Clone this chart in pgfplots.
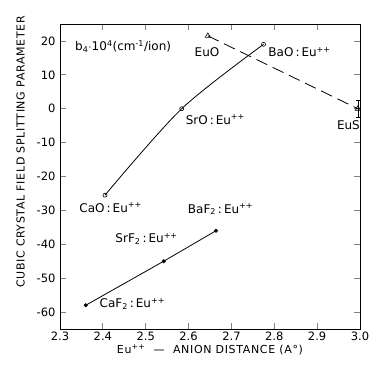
\documentclass[border=0pt]{standalone}
\usepackage{pgfplots}
\pgfplotsset{compat=1.18}
\usepackage{fontspec}
\setmainfont{DejaVu Sans}
\newfontfamily\spaced[LetterSpace=6]{DejaVu Sans}
\newcommand{\sps}[1]{\textsuperscript{#1}}
\newcommand{\sbs}[1]{\textsubscript{#1}}
\begin{document}
\begin{tikzpicture}
\useasboundingbox (-60pt,-37pt) rectangle (314pt,329pt);
\begin{axis}[
  scale only axis, width=300pt, height=305pt,
  xmin=2.3, xmax=3.0, ymin=-65, ymax=25,
  xtick={2.3,2.4,2.5,2.6,2.7,2.8,2.9,3.0},
  xticklabels={2.3,2.4,2.5,2.6,2.7,2.8,2.9,3.0},
  ytick={-60,-50,-40,-30,-20,-10,0,10,20},
  yticklabels={-60,-50,-40,-30,-20,-10,0,10,20},
  tick align=inside, tick pos=both,
  major tick length=6pt,
  major tick style={line width=0.8pt},
  tick label style={font=\fontsize{11.5}{12}\selectfont},
  xticklabel style={yshift=1pt},
  yticklabel style={xshift=-1pt},
  xlabel={Eu\sps{++} \ — \ ANION DISTANCE (A°)},
  ylabel={CUBIC CRYSTAL FIELD SPLITTING PARAMETER},
  label style={font=\spaced\fontsize{11}{12}\selectfont},
  xlabel style={yshift=2pt},
  ylabel style={at={(ticklabel cs:0.58)}, yshift=5pt},
  axis line style={line width=0.9pt},
  clip=false,
]
% oxides, smooth curve
\addplot[black, line width=0.8pt, smooth, mark=o, mark size=2pt, mark options={solid, fill=white, line width=0.6pt}]
  coordinates {(2.405,-25.5) (2.584,0) (2.775,19)};
% Eu chalcogenides, dashed
\addplot[black, line width=0.8pt, dash pattern=on 12pt off 6pt, mark=triangle, mark size=3pt, mark options={solid, fill=white, line width=0.6pt}]
  coordinates {(2.645,21.5) (2.995,0)};
% EuS error bar
\addplot[black, line width=0.6pt, mark=none, error bars/.cd, y dir=both, y explicit, error mark options={rotate=90, mark size=2pt}]
  coordinates {(2.995,0) +- (0,2.5)};
% fluorides
\addplot[black, line width=0.8pt, mark=*, mark size=1.6pt]
  coordinates {(2.36,-58) (2.542,-45) (2.664,-36)};
\begin{scope}[every node/.style={font=\fontsize{12}{13}\selectfont, inner sep=0pt}]
\node[anchor=west] at (axis cs:2.335,18.3) {b\sbs{4}$\cdot$10\sps{4}(cm\sps{-1}/ion)};
\node at (axis cs:2.643,16.8) {EuO};
\node[anchor=west] at (axis cs:2.786,16.8) {BaO\,:\,Eu\sps{++}};
\node[anchor=west] at (axis cs:2.593,-3.2) {SrO\,:\,Eu\sps{++}};
\node at (axis cs:2.973,-4.8) {EuS};
\node[anchor=west] at (axis cs:2.345,-29.2) {CaO\,:\,Eu\sps{++}};
\node[anchor=west] at (axis cs:2.598,-29.7) {BaF\sbs{2}\,:\,Eu\sps{++}};
\node[anchor=west] at (axis cs:2.429,-38.5) {SrF\sbs{2}\,:\,Eu\sps{++}};
\node[anchor=west] at (axis cs:2.392,-57.6) {CaF\sbs{2}\,:\,Eu\sps{++}};
\end{scope}
\end{axis}
\end{tikzpicture}
\end{document}
